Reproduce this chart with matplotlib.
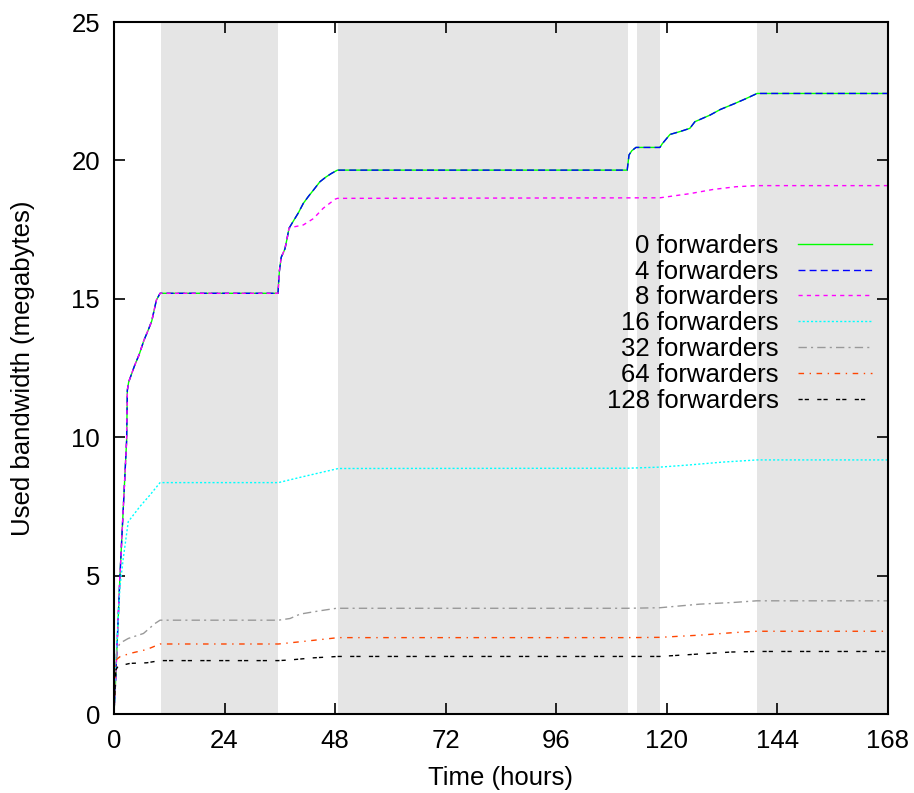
import numpy as np
import matplotlib
matplotlib.use("Agg")
import matplotlib.pyplot as plt

plt.rcParams['font.family'] = ['Liberation Sans', 'DejaVu Sans']
plt.rcParams['font.size'] = 18.5

# shaded periods (hours)
shade_start = [10.2, 48.6, 113.5, 139.6]
shade_end = [35.6, 111.6, 118.5, 168]

# 0 and 4 forwarders (identical)
t_main = [0, 0.3, 1.3, 2.75, 2.9, 3.2, 4.5, 5.5, 6.5, 7.5, 8.2, 9.2, 10.0, 35.6, 35.9, 36.3, 37.1, 37.6, 38.0,
          38.9, 40.0, 41.1, 42.2, 43.3, 44.7, 46.0, 47.2, 48.5, 111.4, 111.8, 112.4, 113.3, 118.5, 119.0, 120.7,
          123.0, 125.0, 126.1, 129.4, 131.6, 134.8, 137.0, 139.6, 168]
v_main = [0, 1.0, 5.0, 9.9, 11.7, 12.0, 12.6, 13.0, 13.5, 13.9, 14.2, 14.95, 15.2, 15.2, 16.0, 16.5, 16.8, 17.2, 17.55,
          17.8, 18.1, 18.45, 18.7, 18.93, 19.23, 19.4, 19.53, 19.65, 19.65, 20.2, 20.35, 20.47, 20.47, 20.6, 20.94,
          21.05, 21.16, 21.4, 21.64, 21.84, 22.06, 22.22, 22.42, 22.42]

t_8 = [0, 0.3, 1.3, 2.75, 2.9, 3.2, 4.5, 5.5, 6.5, 7.5, 8.2, 9.2, 10.0, 35.6, 35.9, 36.3, 37.1, 37.6, 38.0,
       38.5, 41.1, 43.3, 45.4, 48.0, 48.5, 118.5, 125.0, 130.0, 135.0, 139.6, 168]
v_8 = [0, 1.0, 5.0, 9.9, 11.7, 12.0, 12.6, 13.0, 13.5, 13.9, 14.2, 14.95, 15.2, 15.2, 16.0, 16.5, 16.8, 17.2, 17.55,
       17.58, 17.67, 17.9, 18.27, 18.6, 18.63, 18.65, 18.8, 18.95, 19.05, 19.09, 19.09]

t_16 = [0, 0.3, 1.3, 2.0, 3.1, 5.6, 7.8, 10.0, 35.7, 40.4, 44.0, 48.7, 111.5, 118.5, 125, 132, 139.6, 168]
v_16 = [0, 1.5, 4.6, 5.6, 6.95, 7.49, 7.91, 8.36, 8.36, 8.55, 8.69, 8.87, 8.88, 8.92, 9.0, 9.1, 9.18, 9.18]

t_32 = [0, 0.3, 0.6, 1.3, 3.1, 6.4, 8.9, 10.0, 35.7, 38.2, 40.4, 44.7, 48.3, 111.5, 118.5, 127.2, 134.4, 139.5, 168]
v_32 = [0, 1.6, 2.31, 2.56, 2.73, 2.91, 3.27, 3.39, 3.39, 3.45, 3.61, 3.73, 3.82, 3.82, 3.84, 3.97, 4.03, 4.09, 4.09]

t_64 = [0, 0.4, 1.3, 3.5, 7.1, 10.0, 35.7, 40.4, 48.7, 111.5, 118.5, 127.2, 134.4, 139.5, 168]
v_64 = [0, 1.95, 2.07, 2.19, 2.33, 2.53, 2.53, 2.61, 2.76, 2.76, 2.77, 2.85, 2.94, 2.99, 2.99]

t_128 = [0, 0.4, 0.9, 3.5, 7.1, 10.0, 35.7, 38.0, 43.3, 48.7, 111.5, 118.5, 127.2, 134.0, 139.5, 168]
v_128 = [0, 1.59, 1.73, 1.83, 1.85, 1.93, 1.93, 1.95, 2.03, 2.08, 2.08, 2.08, 2.17, 2.24, 2.26, 2.26]

x_ticks = [0, 24, 48, 72, 96, 120, 144, 168]
y_ticks = [0, 5, 10, 15, 20, 25]

fig = plt.figure(figsize=(9.14, 7.93), dpi=100)
ax = fig.add_axes([0.1247, 0.0996, 0.8468, 0.8726])

for s, e in zip(shade_start, shade_end):
    ax.axvspan(s, e, color='#e5e5e5', lw=0, zorder=0)

lw = 1.0
ax.plot(t_main, v_main, color='#00ff00', lw=lw, label='0 forwarders')
ax.plot(t_main, v_main, color='#0000ff', lw=lw, dashes=(5, 3), label='4 forwarders')
ax.plot(t_8, v_8, color='#ff00ff', lw=lw, dashes=(3, 3), label='8 forwarders')
ax.plot(t_16, v_16, color='#00ffff', lw=lw, dashes=(1.5, 1.5), label='16 forwarders')
ax.plot(t_32, v_32, color='#999999', lw=lw, dashes=(6, 3, 1.5, 3), label='32 forwarders')
ax.plot(t_64, v_64, color='#ff4500', lw=lw, dashes=(4, 4, 1, 4), label='64 forwarders')
ax.plot(t_128, v_128, color='#000000', lw=lw, dashes=(3, 1.5, 3, 6), label='128 forwarders')

ax.set_xlim(0, 168)
ax.set_ylim(0, 25)
ax.set_xticks(x_ticks)
ax.set_yticks(y_ticks)
ax.tick_params(direction='in', length=8, width=1.2, top=True, right=True)
ax.tick_params(axis='x', pad=11)
ax.tick_params(axis='y', pad=10)
for sp in ax.spines.values():
    sp.set_linewidth(1.5)

ax.set_xlabel('Time (hours)', labelpad=9)
ax.set_ylabel('Used bandwidth (megabytes)', labelpad=26)

leg = ax.legend(loc='upper right', bbox_to_anchor=(0.980, 0.694), frameon=False, markerfirst=False,
                handlelength=2.9, handletextpad=0.75, labelspacing=0.07, borderpad=0, borderaxespad=0)

fig.savefig('out.png', dpi=100)
